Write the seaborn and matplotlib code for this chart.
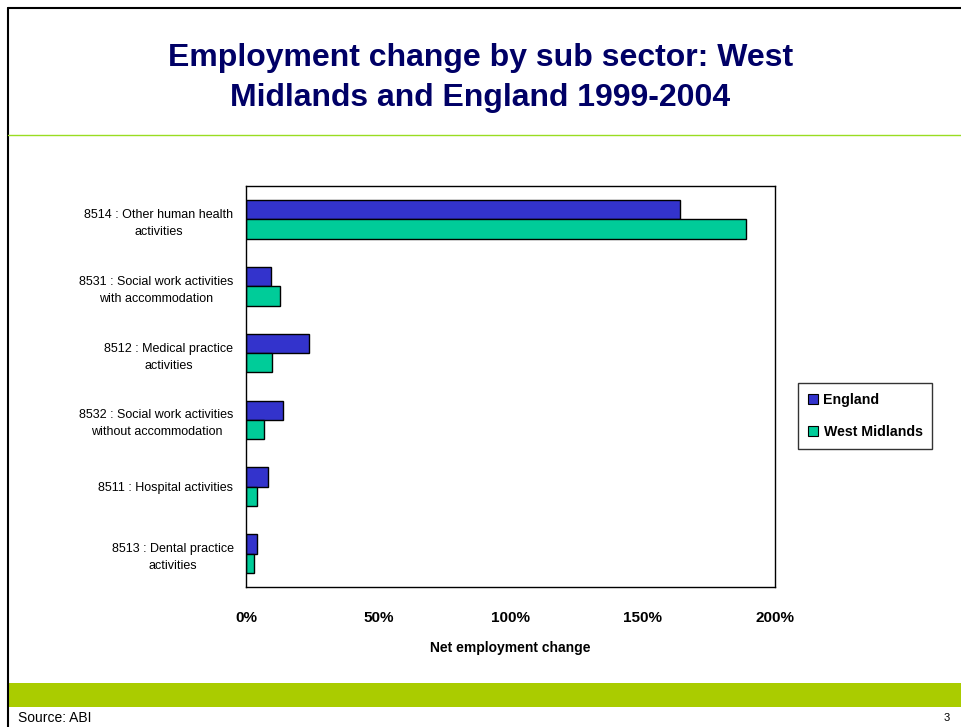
import matplotlib
matplotlib.use("Agg")
import matplotlib.pyplot as plt
from matplotlib.lines import Line2D
from matplotlib.patches import Rectangle
import seaborn as sns
import pandas as pd

categories = [
    "8514 : Other human health\nactivities",
    "8531 : Social work activities\nwith accommodation",
    "8512 : Medical practice\nactivities",
    "8532 : Social work activities\nwithout accommodation",
    "8511 : Hospital activities",
    "8513 : Dental practice\nactivities",
]
england = [164, 9.3, 24, 14.1, 8.2, 4.0]
west_midlands = [189, 12.9, 10, 6.9, 4.3, 3.1]
series_names = ["England", "West Midlands"]
x_ticks = [0, 50, 100, 150, 200]
x_tick_labels = ["0%", "50%", "100%", "150%", "200%"]

df = pd.DataFrame({
    "sector": categories * 2,
    "change": england + west_midlands,
    "area": [series_names[0]] * len(categories) + [series_names[1]] * len(categories),
})

sns.set_style("white")
plt.rcParams["font.family"] = ["Liberation Sans", "DejaVu Sans"]
plt.rcParams["text.color"] = "black"
plt.rcParams["axes.labelcolor"] = "black"
plt.rcParams["xtick.color"] = "black"
plt.rcParams["ytick.color"] = "black"

fig = plt.figure(figsize=(9.61, 7.27), dpi=100)
W, H = 961, 727
ax = fig.add_axes([246 / W, 1 - 587 / H, (775 - 246) / W, (587 - 186) / H])

sns.barplot(
    data=df, y="sector", x="change", hue="area", orient="h",
    palette=["#3333CC", "#00CC99"], saturation=1, width=0.58, gap=0,
    edgecolor="black", linewidth=1.0, ax=ax, order=categories,
    hue_order=series_names, legend=True,
)

ax.set_xlim(0, 200)
ax.set_ylim(len(categories) - 0.5, -0.5)
ax.set_xticks(x_ticks)
ax.set_xticklabels(x_tick_labels, fontsize=11, fontweight="bold")
ax.tick_params(axis="x", length=5, width=1, color="black", direction="out", pad=12)
ax.set_yticks(range(len(categories)))
ax.set_yticklabels(categories, fontsize=9, multialignment="center", linespacing=1.55)
ax.tick_params(axis="y", which="major", length=0, pad=9)
ax.set_yticks([i - 0.5 for i in range(len(categories) + 1)], minor=True)
ax.tick_params(axis="y", which="minor", length=5, width=1, color="black", direction="out")
ax.set_xlabel("Net employment change", fontsize=10, fontweight="bold", labelpad=12)
ax.set_ylabel("")
for s in ax.spines.values():
    s.set_color("black")
    s.set_linewidth(1)

leg = ax.legend(
    loc="upper left", bbox_to_anchor=(798 / W, 1 - 383 / H), bbox_transform=fig.transFigure,
    frameon=True, fancybox=False, edgecolor="black",
    prop={"weight": "bold", "size": 10.2}, handlelength=0.7, handleheight=0.7,
    handletextpad=0.4, borderpad=0.7, labelspacing=1.25, borderaxespad=0,
)
leg.get_frame().set_linewidth(1)
for h in leg.legend_handles:
    h.set_edgecolor("black")
    h.set_linewidth(0.8)

fig.text(0.5, 1 - 78 / H, "Employment change by sub sector: West\nMidlands and England 1999-2004",
         ha="center", va="center", fontsize=23, fontweight="bold", color="#000066",
         linespacing=1.45)

# Slide frame and decorations
fig.add_artist(Line2D([8 / W, 1], [1 - 8 / H, 1 - 8 / H], color="black", lw=1.5))
fig.add_artist(Line2D([8 / W, 8 / W], [0, 1 - 8 / H], color="black", lw=1.5))
fig.add_artist(Line2D([8 / W, 1], [1 - 135 / H, 1 - 135 / H], color="#99DD22", lw=1))
fig.add_artist(Rectangle((9 / W, 1 - 707 / H), 1, 24 / H, transform=fig.transFigure,
                         facecolor="#AACC00", edgecolor="none"))
fig.text(18 / W, 1 - 718 / H, "Source: ABI", ha="left", va="center", fontsize=10)
fig.text(950 / W, 1 - 718 / H, "3", ha="right", va="center", fontsize=8)

fig.savefig("out.png", dpi=100)
